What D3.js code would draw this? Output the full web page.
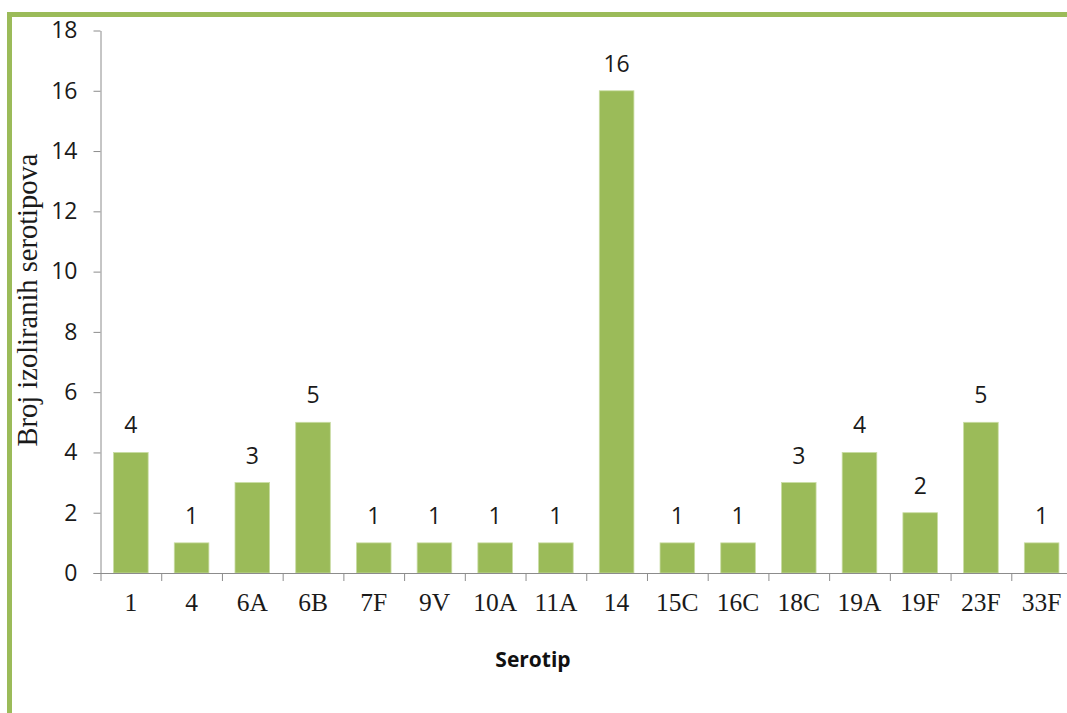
<!DOCTYPE html>
<html>
<head>
<meta charset="utf-8">
<script src="https://cdn.jsdelivr.net/npm/d3@7"></script>
<style>
	body { margin: 0; background: #fff; }
	svg { display: block; }
</style>
</head>
<body>
<svg width="1067" height="713"></svg>
<script>
var serotypes = ["1", "4", "6A", "6B", "7F", "9V", "10A", "11A", "14", "15C", "16C", "18C", "19A", "19F", "23F", "33F"]
var counts = [4, 1, 3, 5, 1, 1, 1, 1, 16, 1, 1, 3, 4, 2, 5, 1]
var yTicks = [0, 2, 4, 6, 8, 10, 12, 14, 16, 18]

var green = "#9bbb59"
var axisColor = "#8c8c8c"
var svg = d3.select("svg")

// outer frame (only top and left edges visible)
svg.append("path")
	.attr("d", "M9.5,713 V14.5 H1067")
	.attr("fill", "none")
	.attr("stroke", green)
	.attr("stroke-width", 5)

// plot area (note: "top" is reserved on window, so use other names)
var plotLeft = 100.5, plotRight = 1072, plotTop = 30.5, plotBottom = 573
var x = d3.scaleBand()
	.domain(serotypes)
	.range([plotLeft, plotRight])
	.paddingInner(0.43)
	.paddingOuter(0.215)
var y = d3.scaleLinear()
	.domain([0, 18])
	.range([plotBottom, plotTop])

// bars
svg.append("g")
	.selectAll("rect")
	.data(counts)
	.enter()
	.append("rect")
	.attr("x", function(d, i) { return x(serotypes[i]) })
	.attr("y", function(d) { return y(d) })
	.attr("width", x.bandwidth())
	.attr("height", function(d) { return plotBottom - y(d) })
	.attr("fill", green)
	.attr("stroke", "#c9dca3")
	.attr("stroke-width", 0.8)

// value labels
svg.append("g")
	.selectAll("text")
	.data(counts)
	.enter()
	.append("text")
	.attr("x", function(d, i) { return x(serotypes[i]) + x.bandwidth() / 2 })
	.attr("y", function(d) { return y(d) - 19 })
	.attr("text-anchor", "middle")
	.attr("font-family", "'Open Sans', sans-serif")
	.attr("font-size", 23)
	.attr("fill", "#1a1a1a")
	.text(function(d) { return d })

// y axis
var yAxis = svg.append("g")
	.attr("transform", "translate(" + plotLeft + ",0)")
	.call(d3.axisLeft(y).tickValues(yTicks).tickSize(7).tickSizeOuter(0).tickPadding(16))
yAxis.select(".domain").attr("stroke", axisColor)
yAxis.selectAll(".tick line").attr("stroke", axisColor)
yAxis.selectAll("text")
	.attr("font-family", "'Open Sans', sans-serif")
	.attr("font-size", 23)
	.attr("fill", "#1a1a1a")

// x axis: tick marks on category boundaries, labels centred in bands
var edges = d3.scaleLinear().domain([0, serotypes.length]).range([plotLeft, plotRight])
var xTickAxis = svg.append("g")
	.attr("transform", "translate(0," + plotBottom + ")")
	.call(d3.axisBottom(edges).tickValues(d3.range(0, serotypes.length + 1)).tickSize(8).tickSizeOuter(0).tickFormat(""))
xTickAxis.select(".domain").attr("stroke", axisColor)
	.attr("d", "M" + (plotLeft - 7) + ",0.5H" + plotRight)
xTickAxis.selectAll(".tick line").attr("stroke", axisColor)

var xAxis = svg.append("g")
	.attr("transform", "translate(0," + plotBottom + ")")
	.call(d3.axisBottom(x).tickSize(0).tickPadding(20))
xAxis.select(".domain").remove()
xAxis.selectAll("text")
	.attr("font-family", "'Liberation Serif', 'Times New Roman', serif")
	.attr("font-size", 25.5)
	.attr("fill", "#1a1a1a")

// axis titles
svg.append("text")
	.attr("transform", "translate(37,300) rotate(-90)")
	.attr("text-anchor", "middle")
	.attr("font-family", "'Liberation Serif', 'Times New Roman', serif")
	.attr("font-size", 28.5)
	.attr("fill", "#1a1a1a")
	.text("Broj izoliranih serotipova")

svg.append("text")
	.attr("x", 533)
	.attr("y", 667)
	.attr("text-anchor", "middle")
	.attr("font-family", "'Open Sans', sans-serif")
	.attr("font-weight", "bold")
	.attr("font-size", 21)
	.attr("fill", "#111")
	.text("Serotip")
</script>
</body>
</html>
